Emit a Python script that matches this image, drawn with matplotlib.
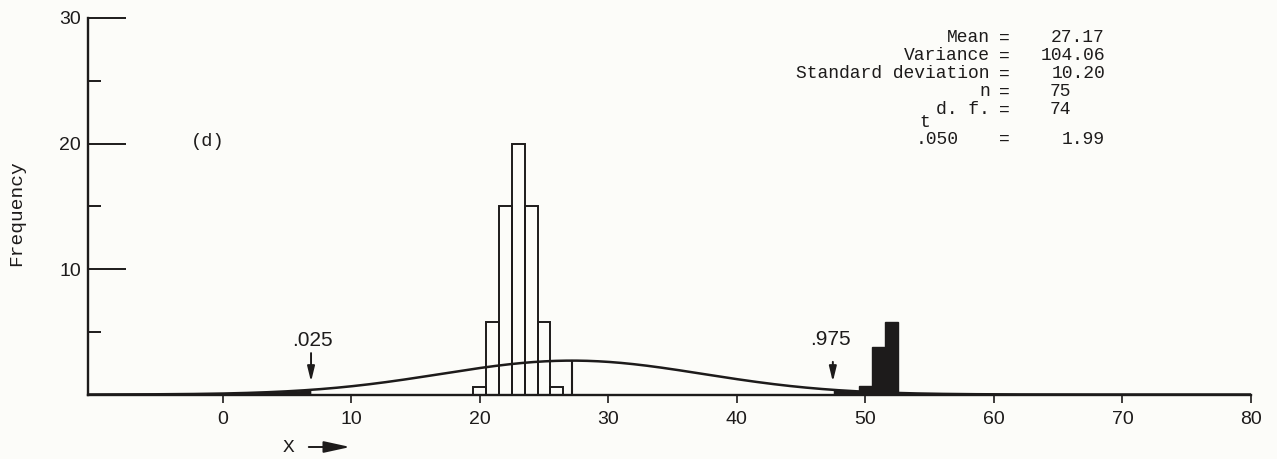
import numpy as np
import matplotlib
matplotlib.use("Agg")
import matplotlib.pyplot as plt

W, H = 1277, 459
INK = "#1d1b1b"
PAPER = "#fcfcf9"

# Histogram of X (bins of width 1)
bin_centers = [20, 21, 22, 23, 24, 25, 26]
bin_freqs = [0.6, 5.8, 15, 20, 15, 5.8, 0.6]
# Observations lying in the upper rejection region
tail_centers = [50, 51, 52]
tail_freqs = [0.7, 3.8, 5.8]

# Summary statistics
mean_x = 27.17
variance_x = 104.06
sd_x = 10.20
n_obs = 75
dof = 74
t_050 = 1.99
curve_peak = 2.7

x_ticks = [0, 10, 20, 30, 40, 50, 60, 70, 80]
y_major = [10, 20, 30]
y_minor = [5, 15, 25]

plt.rcParams["font.family"] = ["Liberation Sans", "DejaVu Sans"]
MONO = "Liberation Mono"


def fx(px):
    return px / W


def fy(py):
    return 1 - py / H


fig = plt.figure(figsize=(W / 100, H / 100), dpi=100)
fig.patch.set_facecolor(PAPER)
ax = fig.add_axes([fx(88), fy(394.5), (1251 - 88) / W, (394.5 - 18) / H])
ax.set_facecolor("none")
ax.set_xlim(-10.48, 80)
ax.set_ylim(0, 30)

for side in ("top", "right"):
    ax.spines[side].set_visible(False)
for side in ("left", "bottom"):
    ax.spines[side].set_linewidth(1.7)
    ax.spines[side].set_color(INK)

ax.set_xticks(x_ticks)
ax.set_yticks(y_major)
ax.set_yticks(y_minor, minor=True)
ax.tick_params(axis="x", which="major", direction="out", length=6, width=1.2,
               pad=6, labelsize=14, colors=INK)
ax.tick_params(axis="x", which="minor", bottom=False)
ax.tick_params(axis="y", which="major", direction="in", length=27, width=1.4,
               pad=5, labelsize=14, colors=INK)
ax.tick_params(axis="y", which="minor", direction="in", length=9.5, width=1.4,
               colors=INK)

# Open histogram bars
ax.bar(bin_centers, bin_freqs, width=1, fill=False, edgecolor=INK,
       linewidth=1.4, zorder=2)
# Solid bars in the rejection region
ax.bar(tail_centers, tail_freqs, width=1, color=INK, edgecolor=INK,
       linewidth=1.0, zorder=2)

# Fitted normal curve and its rejection tails
xs = np.linspace(-10.48, 80, 2000)
ys = curve_peak * np.exp(-0.5 * ((xs - mean_x) / sd_x) ** 2)
crit_lo = mean_x - t_050 * sd_x
crit_hi = mean_x + t_050 * sd_x
ax.plot(xs, ys, color=INK, lw=1.8, zorder=3)
ax.fill_between(xs, 0, ys, where=xs <= crit_lo, color=INK, lw=0, zorder=3)
ax.fill_between(xs, 0, ys, where=xs >= crit_hi, color=INK, lw=0, zorder=3)
ax.plot([mean_x, mean_x], [0, curve_peak], color=INK, lw=1.5, zorder=3)

# Tail-probability markers
arrow = dict(arrowstyle="-|>,head_length=0.9,head_width=0.22", lw=1.4,
             color=INK, shrinkA=0, shrinkB=0)
ax.annotate("", xy=(crit_lo, 1.02), xytext=(crit_lo, 3.3), arrowprops=arrow,
            zorder=4)
ax.annotate("", xy=(crit_hi, 1.02), xytext=(crit_hi, 2.6), arrowprops=arrow,
            zorder=4)
fig.text(fx(312), fy(341), ".025", ha="center", va="center", size=15,
         color=INK)
fig.text(fx(830), fy(339.5), ".975", ha="center", va="center", size=15,
         color=INK)

# Axis labels
fig.text(fx(17), fy(213), "Frequency", rotation=90, ha="center", va="center",
         family=MONO, size=14, color=INK)
fig.text(fx(289), fy(447), "X", ha="center", va="center",
         family=MONO, size=14, color=INK)
fig.add_artist(matplotlib.patches.FancyArrowPatch(
    (fx(306), fy(447)), (fx(353), fy(447)), transform=fig.transFigure,
    arrowstyle="-|>,head_length=1.6,head_width=0.35", mutation_scale=10,
    lw=1.4, color=INK))

fig.text(fx(208), fy(142), "(d)", ha="center", va="center",
         family=MONO, size=13.5, color=INK)

# Summary statistics block
text_kw = dict(family=MONO, size=13, color=INK, va="center")
rows = [
    ("Mean", 38, f"{mean_x:.2f}", "right"),
    ("Variance", 56, f"{variance_x:.2f}", "right"),
    ("Standard deviation", 74, f"{sd_x:.2f}", "right"),
    ("n", 92, f"{n_obs}", "left"),
    ("d. f.", 110, f"{dof}", "left"),
]
for label, py, value, align in rows:
    fig.text(fx(990), fy(py), label, ha="right", **text_kw)
    fig.text(fx(1004), fy(py), "=", ha="center", **text_kw)
    vx = 1105 if align == "right" else 1050
    fig.text(fx(vx), fy(py), value, ha=align, **text_kw)

fig.text(fx(919), fy(123), "t", ha="left", **text_kw)
fig.text(fx(959), fy(139), ".050", ha="right", **text_kw)
fig.text(fx(1004), fy(139), "=", ha="center", **text_kw)
fig.text(fx(1105), fy(139), f"{t_050:.2f}", ha="right", **text_kw)

fig.savefig("out.png", dpi=100, facecolor=PAPER)
